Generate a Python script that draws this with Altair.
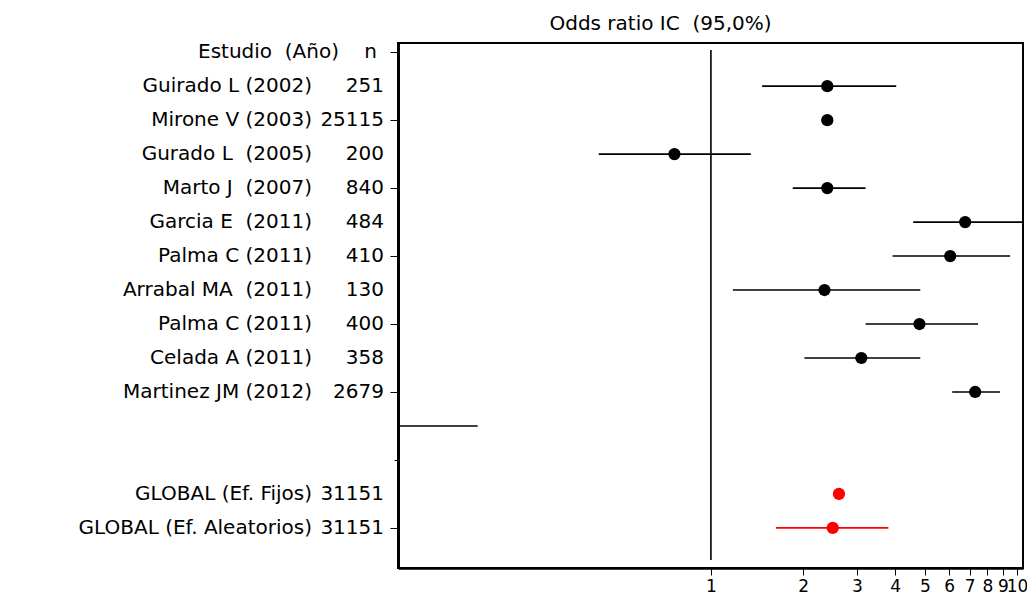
import pandas as pd
import altair as alt

# Filas del forest plot (fila 0 = cabecera)
rows = list(range(1, 15))
estudios = ["Guirado L (2002)", "Mirone V (2003)", "Gurado L\u00a0 (2005)", "Marto J\u00a0 (2007)",
            "Garcia E\u00a0 (2011)", "Palma C (2011)", "Arrabal MA\u00a0 (2011)", "Palma C (2011)",
            "Celada A (2011)", "Martinez JM (2012)", "", "",
            "GLOBAL (Ef. Fijos)", "GLOBAL (Ef. Aleatorios)"]
n_vals = ["251", "25115", "200", "840", "484", "410", "130", "400", "358", "2679",
          "", "", "31151", "31151"]
odds = [2.40, 2.40, 0.76, 2.40, 6.77, 6.05, 2.35, 4.80, 3.10, 7.30, None, None, 2.62, 2.50]
ic_low = [1.47, 2.30, 0.43, 1.85, 4.58, 3.92, 1.18, 3.20, 2.02, 6.14, 0.095, None, 2.52, 1.63]
ic_high = [4.03, 2.50, 1.35, 3.20, 11.5, 9.49, 4.83, 7.46, 4.83, 8.80, 0.173, None, 2.72, 3.80]
grupo = ["estudio"] * 12 + ["global"] * 2
x_ticks = [1, 2, 3, 4, 5, 6, 7, 8, 9, 10]

df = pd.DataFrame({"row": rows, "estudio": estudios, "n": n_vals, "or": odds,
                   "lo": ic_low, "hi": ic_high, "grupo": grupo})

FONT = "DejaVu Sans"
xscale = alt.Scale(type="log", domain=[0.095, 10.46], nice=False)
yscale = alt.Scale(domain=[-0.27, 15.18], reverse=True, nice=False, zero=False)
color = alt.Color("grupo:N", scale=alt.Scale(domain=["estudio", "global"],
                                              range=["#000000", "#ff0000"]), legend=None)

base = alt.Chart(df)

# Intervalos de confianza
ic = base.transform_filter("datum.lo != null").mark_rule(strokeWidth=1.6, clip=True).encode(
    x=alt.X("lo:Q", scale=xscale,
            axis=alt.Axis(values=x_ticks, title=None, grid=False, labelFont=FONT,
                          labelFontSize=17, labelColor="black", tickColor="black",
                          tickSize=7, domainColor="black", domainWidth=2.5,
                          labelOverlap=False, labelPadding=3, format="d")),
    x2="hi:Q",
    y=alt.Y("row:Q", scale=yscale,
            axis=alt.Axis(values=list(range(0, 15)), labels=False, title=None, grid=False,
                          tickColor="black", domainColor="black", domainWidth=3,
                          tickSize={"condition": {"test": "datum.value == 11 || datum.value == 12",
                                                  "value": 4}, "value": 8})),
    color=color,
)

# Estimación puntual
puntos = base.transform_filter("datum.or != null").mark_point(
    filled=True, shape="circle", size=150, opacity=1).encode(
    x=alt.X("or:Q", scale=xscale),
    y=alt.Y("row:Q", scale=yscale),
    color=color,
)

# Línea de no efecto (OR = 1)
linea_1 = alt.Chart(pd.DataFrame({"x": [1]})).mark_rule(color="black", strokeWidth=1.6).encode(
    x=alt.X("x:Q", scale=xscale), y=alt.value(7), y2=alt.value(517))

# Etiquetas a la izquierda del eje
nombres = base.mark_text(align="right", baseline="middle", font=FONT, fontSize=20,
                         color="black").encode(
    x=alt.value(-86), y=alt.Y("row:Q", scale=yscale), text="estudio:N")
tamanos = base.mark_text(align="right", baseline="middle", font=FONT, fontSize=20,
                         color="black").encode(
    x=alt.value(-14), y=alt.Y("row:Q", scale=yscale), text="n:N")

cab = pd.DataFrame({"row": [0], "estudio": ["Estudio\u00a0 (Año)"], "n": ["n"]})
cab_nombre = alt.Chart(cab).mark_text(align="right", baseline="middle", font=FONT,
                                      fontSize=20, color="black").encode(
    x=alt.value(-59), y=alt.Y("row:Q", scale=yscale), text="estudio:N")
cab_n = alt.Chart(cab).mark_text(align="right", baseline="middle", font=FONT,
                                 fontSize=20, color="black").encode(
    x=alt.value(-21), y=alt.Y("row:Q", scale=yscale), text="n:N")

chart = (ic + linea_1 + puntos + nombres + tamanos + cab_nombre + cab_n).properties(
    width=625,
    height=525,
    autosize=alt.AutoSizeParams(type="none"),
    padding={"left": 390, "top": 35, "right": 4, "bottom": 30},
    title=alt.TitleParams("Odds ratio IC\u00a0 (95,0%)", font=FONT, fontSize=20,
                          fontWeight="normal", color="black", dx=-50, offset=8),
).configure(background="white").configure_view(stroke="black", strokeWidth=2)

chart.save("out.html", embed_options={"renderer": "svg", "actions": False})
